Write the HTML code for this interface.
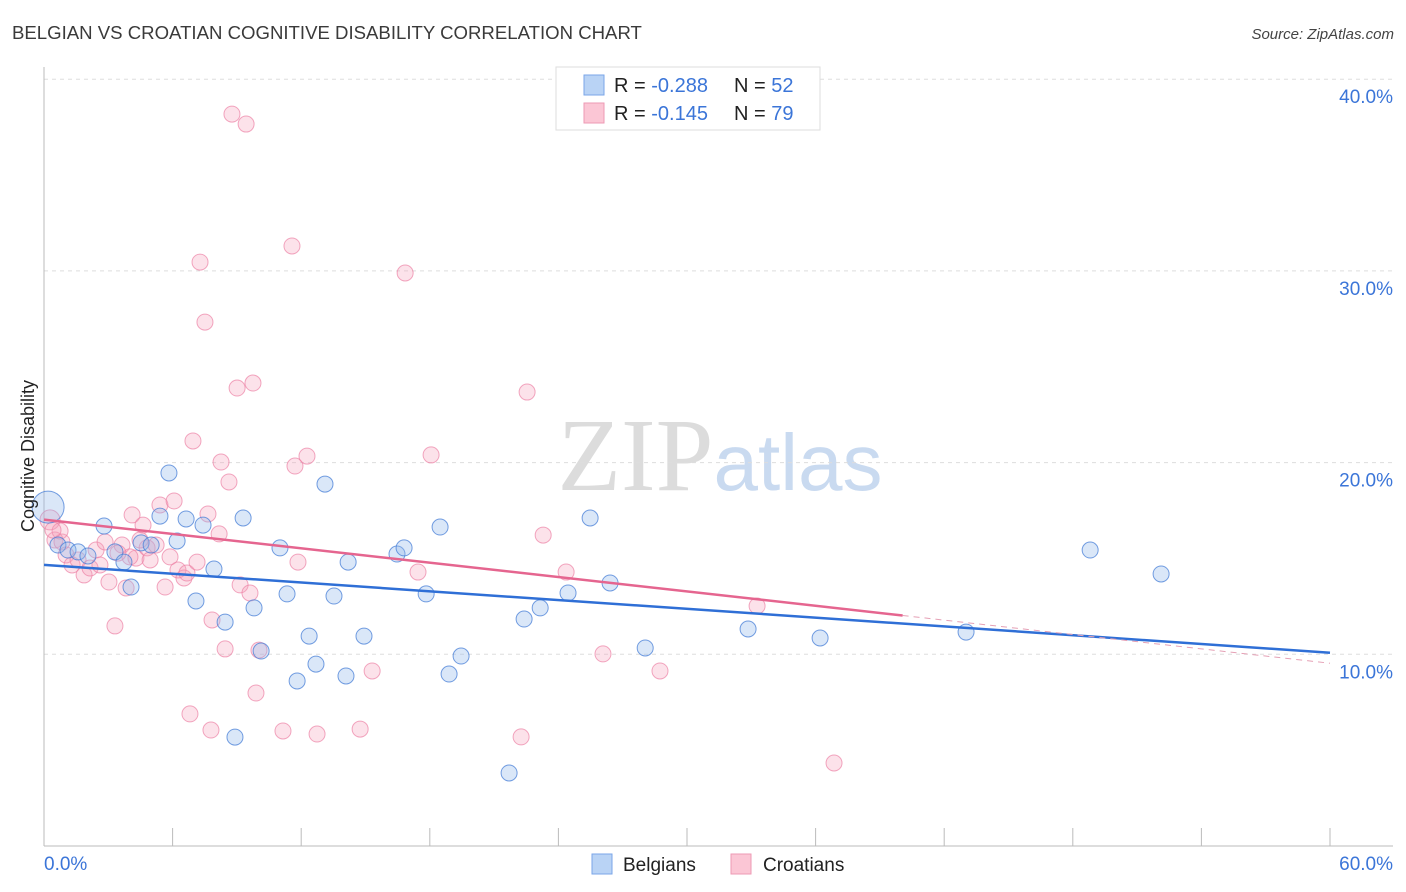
<!DOCTYPE html>
<html><head><meta charset="utf-8"><style>
body{margin:0;background:#fff;font-family:"Liberation Sans",sans-serif}
</style></head><body>
<svg id="chart" width="1406" height="892" xmlns="http://www.w3.org/2000/svg" style="display:block">
<text x="12" y="39" font-size="18.6" fill="#3a3a3a" font-family="Liberation Sans, sans-serif">BELGIAN VS CROATIAN COGNITIVE DISABILITY CORRELATION CHART</text>
<text x="1394" y="39" font-size="15" fill="#444" text-anchor="end" font-style="italic">Source: ZipAtlas.com</text>
<text x="720" y="490" text-anchor="middle" font-size="104" font-family="Liberation Serif, serif" fill="#dcdcdc">ZIP<tspan fill="#c9daf0" font-family="Liberation Sans, sans-serif" font-size="80">atlas</tspan></text>
<g id="grid"></g>
<g id="axes"></g>
<g id="pts"></g>
<g id="trends"></g>
<text transform="translate(34,456) rotate(-90)" text-anchor="middle" font-size="18" fill="#222">Cognitive Disability</text>
<g>
<rect x="556" y="67" width="264" height="63" fill="#fff" stroke="#ddd"/>
<rect x="584" y="75" width="20" height="20" fill="#b9d3f5" stroke="#7aa6e8"/>
<rect x="584" y="103" width="20" height="20" fill="#fbc6d5" stroke="#ee9ab4"/>
<text x="614" y="92" font-size="20" fill="#222">R = <tspan fill="#3b75d8">-0.288</tspan><tspan x="734">N = </tspan><tspan fill="#3b75d8">52</tspan></text>
<text x="614" y="120" font-size="20" fill="#222">R = <tspan fill="#3b75d8"> -0.145</tspan><tspan x="734">N = </tspan><tspan fill="#3b75d8">79</tspan></text>
</g>
<g>
<rect x="592" y="854" width="20" height="20" fill="#b9d3f5" stroke="#7aa6e8"/>
<text x="623" y="871" font-size="19" fill="#222">Belgians</text>
<rect x="731" y="854" width="20" height="20" fill="#fbc6d5" stroke="#ee9ab4"/>
<text x="763" y="871" font-size="19" fill="#222">Croatians</text>
</g>
</svg>
<script>
const yTicks=[10,20,30,40];
const yTickLabels=["10.0%","20.0%","30.0%","40.0%"];
const xTickLabels=["0.0%","60.0%"];
const belX=[0.19,0.65,1.12,1.59,2.05,2.80,3.31,3.73,4.06,4.53,5.0,5.41,5.83,6.21,6.63,7.09,7.42,7.93,8.45,8.91,9.29,9.80,10.13,11.01,11.34,11.81,12.37,12.69,13.11,13.53,14.09,14.19,14.93,16.47,16.80,17.83,18.48,18.90,19.46,21.70,22.40,23.15,24.45,25.48,26.41,28.05,32.85,36.21,43.02,48.81,52.12];
const belY=[17.68,15.70,15.44,15.34,15.13,16.69,15.34,14.81,13.51,15.81,15.70,17.21,19.46,15.91,17.06,12.78,16.74,14.45,11.68,5.68,17.11,12.42,10.17,15.55,13.15,8.61,10.95,9.49,18.88,13.04,8.87,14.81,10.95,15.23,15.55,13.15,16.64,8.97,9.91,3.81,11.84,12.42,13.20,17.11,13.72,10.33,11.32,10.85,11.16,15.44,14.19];
const croX=[0.28,0.51,0.84,1.03,1.31,1.59,1.87,2.15,2.43,2.61,2.85,3.03,3.31,3.64,3.83,4.11,4.29,4.62,4.81,4.95,5.23,5.41,5.65,5.88,6.07,6.25,6.53,6.67,6.95,7.14,7.28,7.51,7.65,7.84,8.17,8.26,8.45,8.63,8.77,9.01,9.15,9.43,9.61,9.75,9.89,10.03,11.15,11.57,11.71,11.85,12.27,12.74,14.75,15.31,16.85,17.45,18.06,22.26,22.54,23.29,24.36,26.08,28.74,33.27,36.86,6.81,7.79,4.01,4.48,0.75,0.42,3.45];
const croY=[17.01,15.96,15.86,15.18,14.66,14.92,14.14,14.50,15.44,14.66,15.86,13.77,11.48,15.70,13.46,17.27,15.02,16.74,15.55,14.92,15.70,17.79,13.51,15.08,18.0,14.40,13.98,14.24,21.13,14.81,30.46,27.33,17.32,11.79,16.28,20.03,10.28,18.99,38.18,23.89,13.62,37.66,13.20,24.15,7.98,10.22,6.0,31.30,19.82,14.81,20.34,5.84,6.10,9.13,29.89,14.29,20.40,5.69,23.68,16.22,14.29,10.02,9.13,12.52,4.33,6.89,6.05,15.08,15.96,16.43,16.48,15.28];
const X=v=>44+v/60*1286, Y=v=>846-v*19.17;
const NS="http://www.w3.org/2000/svg";
function mk(t,a,p){const e=document.createElementNS(NS,t);for(const k in a)e.setAttribute(k,a[k]);p.appendChild(e);return e;}
const grid=document.getElementById('grid'),axes=document.getElementById('axes');
yTicks.forEach((t,i)=>{
 const l=mk('line',{x1:44,x2:1393,y1:Y(t),y2:Y(t),stroke:'#ddd','stroke-dasharray':'4,4'},grid);
 
 
 const tx=mk('text',{x:1393,y:Y(t)+24,'text-anchor':'end','font-size':19,fill:'#3b75d8'},grid);
 tx.textContent=yTickLabels[i];
 
 
});
let a=mk('line',{x1:44,x2:44,y1:67,y2:846,stroke:'#bbb'},axes);


a=mk('line',{x1:44,x2:1393,y1:846,y2:846,stroke:'#bbb'},axes);


for(let i=0;i<=10;i++){const tk=mk('line',{x1:X(i*6),x2:X(i*6),y1:828,y2:846,stroke:'#bbb'},axes);
 
 }
let t0=mk('text',{x:44,y:870,'font-size':19,fill:'#3b75d8'},axes);t0.textContent=xTickLabels[0];


t0=mk('text',{x:1393,y:870,'font-size':19,fill:'#3b75d8','text-anchor':'end'},axes);t0.textContent=xTickLabels[1];


const pts=document.getElementById('pts');
croX.forEach((x,i)=>{const c=mk('circle',{cx:X(x),cy:Y(croY[i]),r:i==0?10:8,fill:'rgba(246,160,186,0.3)',stroke:'rgba(236,130,165,0.7)','stroke-width':1},pts);
 
 });
belX.forEach((x,i)=>{const c=mk('circle',{cx:X(x),cy:Y(belY[i]),r:i==0?16:8,fill:'rgba(150,185,235,0.35)',stroke:'rgba(70,125,215,0.75)','stroke-width':1},pts);
 
 });
function fit(xs,ys){const n=xs.length;let mx=0,my=0;xs.forEach((x,i)=>{mx+=x;my+=ys[i]});mx/=n;my/=n;let sxy=0,sxx=0;xs.forEach((x,i)=>{sxy+=(x-mx)*(ys[i]-my);sxx+=(x-mx)**2});const b=sxy/sxx;return [my-b*mx,b];}
const tr=document.getElementById('trends');
const [ba,bb]=fit(belX,belY);
let ln=mk('line',{x1:X(0),y1:Y(ba),x2:X(60),y2:Y(ba+bb*60),stroke:'#2f6fd6','stroke-width':2.5},tr);


let [ca,cb]=fit(croX,croY);
ca=ca-0.1; cb=cb*0.96;
const cmax=Math.max(...croX);
ln=mk('line',{x1:X(0),y1:Y(ca),x2:X(cmax+3.2),y2:Y(ca+cb*(cmax+3.2)),stroke:'#e5658f','stroke-width':2.5},tr);


ln=mk('line',{x1:X(cmax+3.2),y1:Y(ca+cb*(cmax+3.2)),x2:X(60),y2:Y(ca+cb*60),stroke:'#e5a0b5','stroke-width':1,'stroke-dasharray':'6,5'},tr);


</script>
</body></html>
